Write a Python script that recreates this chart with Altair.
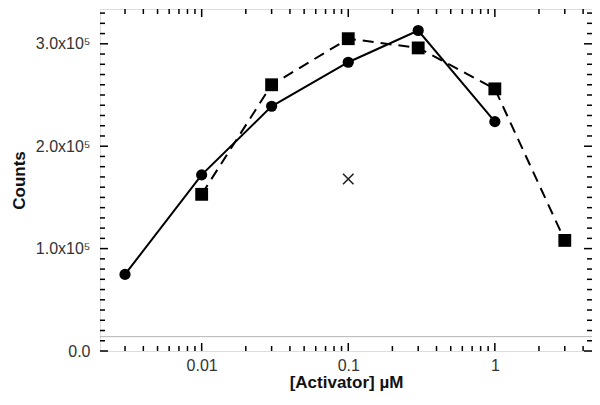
import altair as alt
import pandas as pd

# ---- data ----
circ_x = [0.003, 0.01, 0.03, 0.1, 0.3, 1.0]
circ_y = [74800, 172000, 239000, 282000, 313000, 224000]

sq_x = [0.01, 0.03, 0.1, 0.3, 1.0, 3.0]
sq_y = [153000, 260000, 305000, 296000, 256000, 108000]

cross_x = [0.1]
cross_y = [168000]

baseline_y = [14000]

x_major = [0.01, 0.1, 1.0]
x_minor = [0.003, 0.004, 0.005, 0.006, 0.007, 0.008, 0.009,
           0.02, 0.03, 0.04, 0.05, 0.06, 0.07, 0.08, 0.09,
           0.2, 0.3, 0.4, 0.5, 0.6, 0.7, 0.8, 0.9,
           2.0, 3.0, 4.0]
y_major = [0, 100000, 200000, 300000]
y_minor = [v * 10000 for v in range(0, 34) if v % 10 != 0]

W, H = 492, 342
XDOM = [0.002025, 4.6]
YDOM = [0, 334000]
FONT = "Liberation Sans"

xs = alt.Scale(type="log", domain=XDOM)
ys = alt.Scale(domain=YDOM, zero=False, nice=False)

circ = pd.DataFrame({"x": circ_x, "y": circ_y})
sq = pd.DataFrame({"x": sq_x, "y": sq_y})
cross = pd.DataFrame({"x": cross_x, "y": cross_y})
base = pd.DataFrame({"y": baseline_y})

x_axis = alt.Axis(values=x_major, format=".2~f", title="[Activator] µM",
                  domain=False, ticks=False, grid=False,
                  labelFont=FONT, labelFontSize=16, labelColor="#333333",
                  labelPadding=6, titleFont=FONT, titleFontSize=17,
                  titleFontWeight="bold", titleColor="#111111", titlePadding=1)
y_axis = alt.Axis(values=y_major,
                  labelExpr="datum.value == 0 ? '0.0' : format(datum.value/100000, '.1f') + 'x10⁵'",
                  title="Counts", domain=False, ticks=False, grid=False,
                  labelFont=FONT, labelFontSize=16, labelColor="#333333",
                  labelPadding=10, titleFont=FONT, titleFontSize=17,
                  titleFontWeight="bold", titleColor="#111111", titlePadding=7)

ref_line = alt.Chart(base).mark_rule(color="#b3b3b3", strokeWidth=1).encode(
    y=alt.Y("y:Q", scale=ys, axis=y_axis)
)

circ_line = alt.Chart(circ).mark_line(color="black", strokeWidth=2).encode(
    x=alt.X("x:Q", scale=xs, axis=x_axis),
    y=alt.Y("y:Q", scale=ys, axis=y_axis),
)
circ_pts = alt.Chart(circ).mark_point(shape="circle", filled=True, color="black",
                                      size=125, opacity=1).encode(
    x=alt.X("x:Q", scale=xs), y=alt.Y("y:Q", scale=ys)
)
sq_line = alt.Chart(sq).mark_line(color="black", strokeWidth=2,
                                  strokeDash=[11, 7]).encode(
    x=alt.X("x:Q", scale=xs), y=alt.Y("y:Q", scale=ys)
)
sq_pts = alt.Chart(sq).mark_point(shape="square", filled=True, color="black",
                                  size=165, opacity=1).encode(
    x=alt.X("x:Q", scale=xs), y=alt.Y("y:Q", scale=ys)
)
cross_pt = alt.Chart(cross).mark_point(shape="M-1,-1L1,1M-1,1L1,-1", filled=False,
                                       color="#222222", strokeWidth=1.6,
                                       size=110, opacity=1).encode(
    x=alt.X("x:Q", scale=xs), y=alt.Y("y:Q", scale=ys)
)

# inward ticks on all four sides
def yticks(vals, length):
    df = pd.DataFrame({"y": vals})
    left = alt.Chart(df).mark_rule(color="black", strokeWidth=1.5).encode(
        y=alt.Y("y:Q", scale=ys), x=alt.value(0), x2=alt.value(length))
    right = alt.Chart(df).mark_rule(color="black", strokeWidth=1.5).encode(
        y=alt.Y("y:Q", scale=ys), x=alt.value(W), x2=alt.value(W - length))
    return [left, right]

def xticks(vals, length):
    df = pd.DataFrame({"x": vals})
    bottom = alt.Chart(df).mark_rule(color="black", strokeWidth=1.5).encode(
        x=alt.X("x:Q", scale=xs), y=alt.value(H), y2=alt.value(H - length))
    top = alt.Chart(df).mark_rule(color="black", strokeWidth=1.5).encode(
        x=alt.X("x:Q", scale=xs), y=alt.value(0), y2=alt.value(length))
    return [bottom, top]

tick_layers = (yticks(y_major, 8) + yticks(y_minor, 5)
               + xticks(x_major, 8) + xticks(x_minor, 5))

chart = alt.layer(
    circ_line, ref_line, *tick_layers, sq_line, circ_pts, sq_pts, cross_pt
).properties(
    width=W, height=H,
    autosize=alt.AutoSizeParams(type="none"),
    padding={"left": 92, "top": 1, "right": 0, "bottom": 40},
).configure_view(
    stroke="#111111", strokeWidth=2
).configure(background="white")

chart.save("out.html", embed_options={"renderer": "svg", "actions": False})
